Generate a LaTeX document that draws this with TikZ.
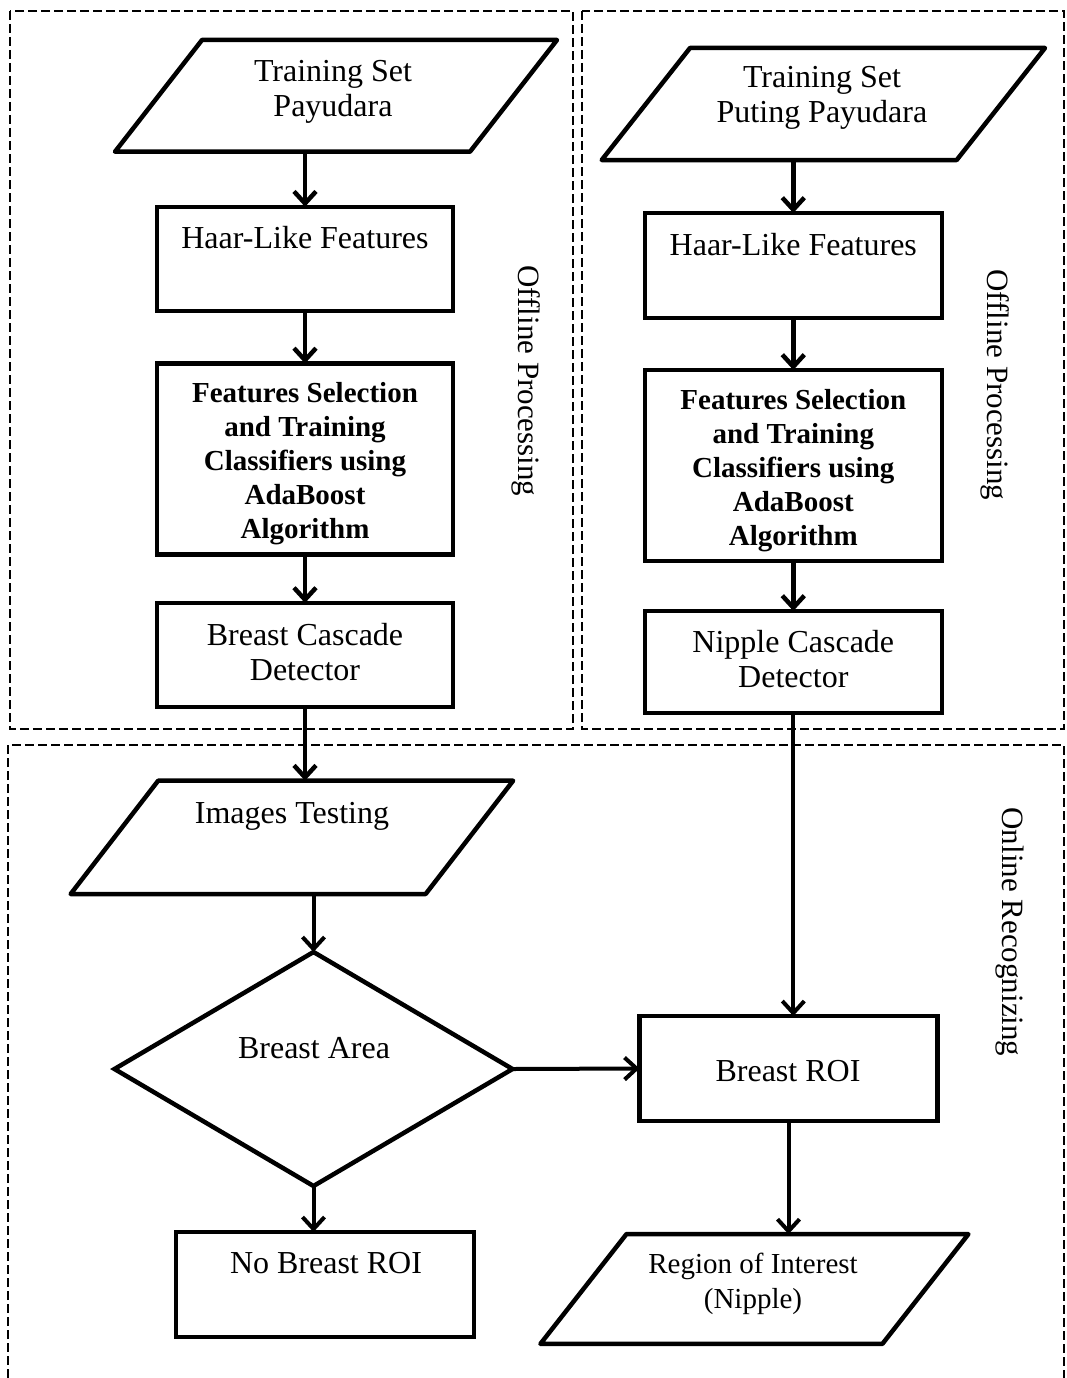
\documentclass[tikz,border=0pt]{standalone}
\usepackage{fontspec}
\setmainfont{Liberation Serif}
\usetikzlibrary{arrows.meta,shapes.geometric}
\begin{document}
\begin{tikzpicture}[x=1pt,y=-1pt,
  box/.style={draw, line width=4.5pt, rectangle, inner sep=0pt, outer sep=0pt},
  paranode/.style={rectangle, inner sep=0pt, outer sep=0pt},
  decision/.style={draw, diamond, line width=4.5pt, inner sep=0pt, outer sep=0pt},
  flow/.style={line width=4.5pt, -{Straight Barb[length=12pt,width=22pt]}},
  flowb/.style={line width=4pt, -{Straight Barb[length=12pt,width=22pt]}},
  frame/.style={line width=2pt, dash pattern=on 9pt off 4pt},
  txt/.style={font=\fontsize{32}{35}\selectfont, align=center, inner sep=0pt, anchor=base},
  txtb/.style={font=\fontsize{29}{33.8}\selectfont\bfseries, align=center, inner sep=0pt, anchor=base},
  txtr/.style={font=\fontsize{29}{35}\selectfont, align=center, inner sep=0pt, anchor=base},
  side/.style={font=\fontsize{31}{35}\selectfont, inner sep=0pt, rotate=-90},
]
\useasboundingbox (0,0) rectangle (1066,1378);

\newcommand\drawpara[2]{%
  \draw[line width=4.5pt, line join=round]
    ([xshift=#2/2]#1.north west) -- ([xshift=#2/2]#1.north east) --
    ([xshift=-#2/2]#1.south east) -- ([xshift=-#2/2]#1.south west) -- cycle;}

% dashed frames
\draw[frame] (10,11) rectangle (573,729);
\draw[frame] (582,11) rectangle (1064,729);
\draw[frame] (8,1378) -- (8,745) -- (1064,745) -- (1064,1378);

% side labels
\node[side] (offL) at (526,381) {Offline Processing};
\node[side] (offR) at (995,385) {Offline Processing};
\node[side] (onl) at (1010,932) {Online Recognizing};

% left column
\node[paranode, minimum width=355pt, minimum height=111.7pt] (ts1) at (336,95.85) {};
\drawpara{ts1}{87}
\node[txt] (ts1t) at (333,116.7) {Training Set\\Payudara};

\node[box, minimum width=296pt, minimum height=104pt] (haarL) at (305,258.75) {};
\node[txt] (haarLt) at (305,248) {Haar-Like Features};

\node[box, minimum width=296pt, minimum height=191pt] (featL) at (305,459) {};
\node[txtb] (featLt) at (305,538) {Features Selection\\and Training\\Classifiers using\\AdaBoost\\Algorithm};

\node[box, minimum width=296pt, minimum height=104pt] (bcL) at (305,655) {};
\node[txt] (bcLt) at (305,680) {Breast Cascade\\Detector};

% right column
\node[paranode, minimum width=355pt, minimum height=112pt] (ts2) at (823.35,104) {};
\drawpara{ts2}{88.3}
\node[txt] (ts2t) at (822,123) {Training Set\\Puting Payudara};

\node[box, minimum width=297pt, minimum height=105pt] (haarR) at (793.3,265.5) {};
\node[txt] (haarRt) at (793.3,255) {Haar-Like Features};

\node[box, minimum width=297pt, minimum height=191pt] (featR) at (793.3,465.5) {};
\node[txtb] (featRt) at (793.3,545) {Features Selection\\and Training\\Classifiers using\\AdaBoost\\Algorithm};

\node[box, minimum width=297pt, minimum height=102pt] (nipR) at (793.3,662) {};
\node[txt] (nipRt) at (793.3,687) {Nipple Cascade\\Detector};

% online part
\node[paranode, minimum width=355pt, minimum height=113.3pt] (it) at (291.9,837.35) {};
\drawpara{it}{87.5}
\node[txt] (itt) at (292,823) {Images Testing};

\node[decision, minimum width=398pt, minimum height=234pt] (dia) at (313.5,1069) {};
\node[txt] (diat) at (314,1058) {Breast Area};

\node[box, minimum width=298pt, minimum height=105pt] (noroi) at (325,1284.5) {};
\node[txt] (noroit) at (326,1273) {No Breast ROI};

\node[box, minimum width=298pt, minimum height=105pt] (roi) at (788.5,1068.5) {};
\node[txt] (roit) at (788,1081) {Breast ROI};

\node[paranode, minimum width=342pt, minimum height=109.7pt] (rg) at (754.4,1289) {};
\drawpara{rg}{86}
\node[txtr] (rgt) at (753,1308) {Region of Interest\\(Nipple)};

% connectors
\draw[flow] (ts1.south -| haarL.north) -- (haarL.north);
\draw[flow] (haarL.south) -- (featL.north);
\draw[flow] (featL.south) -- (bcL.north);
\draw[flow] (bcL.south) -- (bcL.south |- it.north);

\draw[flow] (ts2.south -| haarR.north) -- (haarR.north);
\draw[flow] (haarR.south) -- (featR.north);
\draw[flow] (featR.south) -- (nipR.north);
\draw[flowb] (nipR.south) -- (nipR.south |- roi.north);

\draw[flowb] (it.south -| dia.north) -- (dia.north);
\draw[flowb] (dia.south) -- (dia.south |- noroi.north);
\draw[flowb] (dia.east) -- (roi.west);
\draw[flowb] (roi.south) -- (roi.south |- rg.north);
\end{tikzpicture}
\end{document}
